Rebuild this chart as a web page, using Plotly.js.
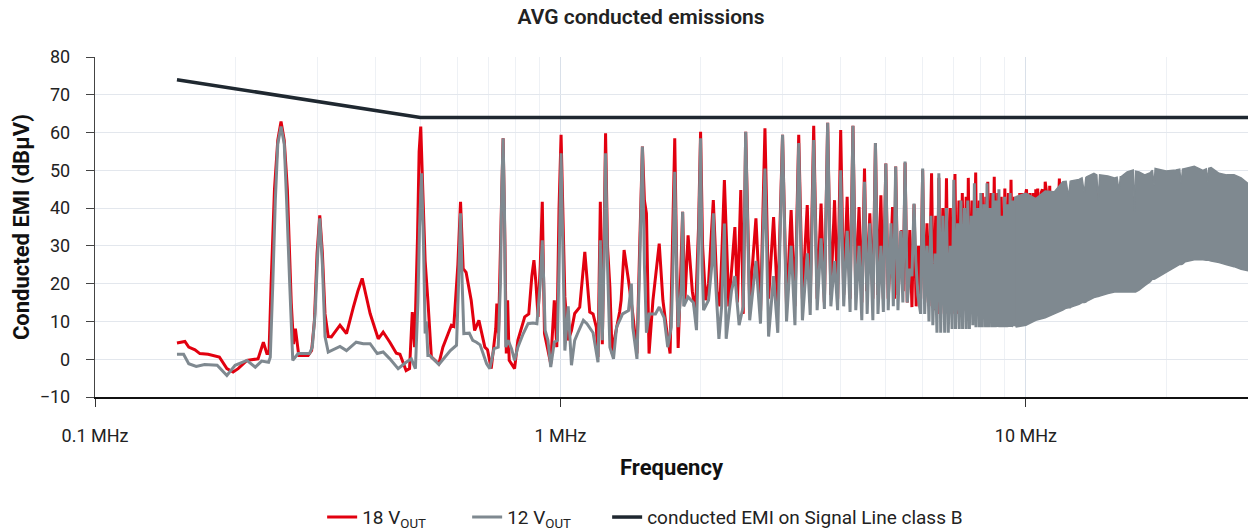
<!DOCTYPE html>
<html>
<head>
<meta charset="utf-8">
<script src="https://cdn.plot.ly/plotly-3.0.1.min.js"></script>
<style>
  html, body { margin: 0; padding: 0; background: #fff; }
  #chart { width: 1250px; height: 531px; }
</style>
</head>
<body>
<div id="chart"></div>
<script>
// ---------------- DATA (MHz, dBµV) ----------------
// 18 V OUT
const freq18A = [
  0.150, 0.156, 0.159, 0.164, 0.168, 0.175, 0.185, 0.192, 0.198, 0.203,
  0.212, 0.224, 0.230, 0.234, 0.2365, 0.239, 0.243, 0.247, 0.251, 0.255,
  0.259, 0.264, 0.267, 0.2695, 0.274, 0.287, 0.292, 0.296, 0.300, 0.304,
  0.308, 0.312, 0.317, 0.322, 0.336, 0.347, 0.359, 0.367, 0.375, 0.382,
  0.390, 0.406, 0.416, 0.430, 0.444, 0.452, 0.466, 0.474, 0.4805, 0.486,
  0.493, 0.497, 0.501, 0.506, 0.512, 0.519, 0.528, 0.548, 0.559, 0.583,
  0.590, 0.602, 0.610, 0.618, 0.627, 0.643, 0.654, 0.668, 0.688, 0.697,
  0.710, 0.726, 0.730, 0.736, 0.745, 0.753, 0.760, 0.765, 0.770, 0.776,
  0.797, 0.810, 0.838, 0.855, 0.868, 0.877, 0.886, 0.895, 0.905, 0.914,
  0.924, 0.953, 0.970, 0.982, 0.993, 1.003
];
const emi18A = [
  4.3, 4.7, 3.2, 2.5, 1.5, 1.3, 0.6, -2.5, -3.4, -2.5,
  -0.3, 0.1, 4.5, 1.5, 1.5, 20, 45, 58, 62.9, 58,
  45, 15, 4, 8.1, 1.0, 1.0, 2.3, 10, 28, 38.1,
  28, 12, 6, 5.9, 9.0, 6.8, 13.8, 18, 21.4, 17,
  12.1, 5.4, 7.2, 4.5, 1.6, 1.3, -3.0, -2.5, 12.5, 3.2,
  32, 55, 61.6, 45, 26, 15.6, 0.6, -1.2, 3.2, 9.0,
  8.7, 25, 41.7, 24, 23, 15.6, 7.6, 10.3, 3.2, 2.5,
  -2.5, 8, 14.7, 6.8, 35, 58.5, 30, 1.5, 15.6, -0.3,
  -2.5, 5, 11.2, 12, 22, 26.2, 20, 11.2, 25, 41.7,
  6.8, -1.2, 15.6, 3.2, 40, 59.4
];
const freq18B = [
  1.022, 1.039, 1.056, 1.073, 1.100, 1.128, 1.156, 1.175, 1.194, 1.204,
  1.218, 1.230, 1.240, 1.250, 1.262, 1.277, 1.291, 1.300, 1.340, 1.350,
  1.370, 1.400, 1.430, 1.460, 1.480, 1.500, 1.515, 1.530, 1.550, 1.580,
  1.630, 1.660, 1.690, 1.720, 1.740, 1.760, 1.780, 1.790, 1.810, 1.830,
  1.850, 1.880, 1.920, 1.950, 1.980, 2.000, 2.020, 2.050, 2.080, 2.130,
  2.170, 2.200, 2.225, 2.250
];
const emi18B = [
  16.5, 5, 7.6, 12.1, 13.8, 28.4, 12.5, 12, 8.5, 0.6,
  41.7, 4, 30, 59.8, 30, 19.1, 1.5, 4, 12.5, 15.6,
  28.9, 20.9, 12, 1.5, 30, 56.3, 42, 38.6, 1.5, 15.6,
  30.6, 15.6, 8, 1.5, 30, 58.5, 20, 3, 20, 39,
  15, 32.8, 18, 12, 35, 60.2, 30, 15.6, 20, 42.1,
  18, 14, 30, 47.4
];
const freq18C = [
  2.300, 2.370, 2.400, 2.440, 2.470, 2.500, 2.550, 2.630, 2.690, 2.750,
  2.800, 2.870, 2.930, 3.000, 3.060, 3.130, 3.190, 3.250, 3.310, 3.390,
  3.440, 3.500, 3.560, 3.630, 3.690, 3.750, 3.810, 3.880, 3.940, 4.000,
  4.060, 4.130, 4.190, 4.250, 4.310, 4.380, 4.440, 4.500, 4.550, 4.620,
  4.690, 4.750, 4.810, 4.880, 4.940, 5.000
];
const emi18C = [
  14, 35, 15, 44.8, 12, 60.2, 15, 37.3, 12, 61.1,
  16, 37.6, 14, 59.4, 14, 39.5, 14, 59.4, 16, 40.8,
  15, 61.8, 16, 41.2, 15, 62.6, 17, 42.1, 16, 60.7,
  17, 43, 16, 61.8, 17, 40.3, 15, 50.5, 18, 38.6,
  16, 57.2, 17, 43.4, 16, 51.8
];
const freq18D = [
  5.060, 5.130, 5.170, 5.220, 5.250, 5.310, 5.410, 5.450, 5.500, 5.560,
  5.630, 5.690, 5.750, 5.810, 5.880, 5.940, 6.000, 6.060, 6.130, 6.190,
  6.270, 6.330, 6.400, 6.450, 6.500, 6.560, 6.630, 6.690, 6.750, 6.810,
  6.880, 6.940, 7.040, 7.100, 7.180, 7.240, 7.300, 7.360, 7.440, 7.480,
  7.520, 7.580, 7.660, 7.720, 7.800, 7.860, 7.940, 8.000, 8.060, 8.120,
  8.200, 8.240, 8.280, 8.340, 8.420, 8.480, 8.550, 8.610, 8.700, 8.760,
  8.850, 8.930, 9.010, 9.080, 9.170, 9.220, 9.290, 9.360, 9.450, 9.500,
  9.570, 9.640, 9.700, 9.760, 9.820, 9.900, 9.960, 10.03, 10.10, 10.20,
  10.30, 10.37, 10.45, 10.50, 10.55, 10.60, 10.70, 10.78, 10.85, 10.92,
  11.00, 11.08, 11.15, 11.25, 11.35, 11.50, 11.60, 11.80, 11.90, 12.00
];
const emi18D = [
  16, 30, 40.3, 16, 51, 17, 34.2, 18, 52, 15,
  34.2, 13.8, 41, 14, 30, 16, 50, 15, 36, 14,
  49.2, 13, 38, 12, 48, 12, 40, 12, 47.9, 12,
  40, 12, 49, 12, 42, 12, 44, 13, 43, 13,
  48, 13, 42, 13, 49.4, 14, 42, 14, 44, 14,
  43, 15, 47, 15, 44, 15, 48.3, 16, 44, 16,
  43, 16, 45.2, 16, 44, 16, 47.5, 17, 43, 17,
  43, 17, 44, 17, 44, 18, 43, 45, 18, 44,
  18, 44, 19, 45, 19, 45.2, 20, 44, 45, 20,
  47, 43.9, 20, 45.9, 21, 44, 21, 47.8, 22, 45
];
const freq18E = [12.60, 13.50, 14.30, 15.00, 17.10, 18.00, 20.00, 24.00, 28.00, 30.00];
const emi18E  = [25, 40, 44, 25, 43, 28, 32, 35, 33, 30];

// 12 V OUT
const freq12A = [
  0.150, 0.155, 0.159, 0.165, 0.172, 0.183, 0.192, 0.200, 0.212, 0.221,
  0.228, 0.236, 0.238, 0.241, 0.244, 0.247, 0.251, 0.255, 0.258, 0.262,
  0.266, 0.273, 0.289, 0.293, 0.297, 0.301, 0.304, 0.308, 0.312, 0.317,
  0.336, 0.347, 0.364, 0.377, 0.390, 0.404, 0.416, 0.430, 0.448, 0.466,
  0.478, 0.488, 0.494, 0.498, 0.503, 0.508, 0.512, 0.515, 0.519, 0.524,
  0.548, 0.580, 0.598, 0.604, 0.610, 0.615, 0.620, 0.637, 0.648, 0.660,
  0.672, 0.694, 0.705, 0.720, 0.735, 0.743, 0.748, 0.753, 0.758, 0.763,
  0.772, 0.785, 0.797, 0.810, 0.832, 0.852, 0.873, 0.890, 0.905, 0.914,
  0.921, 0.927, 0.940, 0.953, 0.970, 0.985, 0.995, 1.003
];
const emi12A = [
  1.3, 1.3, -1.2, -1.9, -1.4, -1.6, -4.3, -1.6, -0.3, -2.1,
  -0.5, -0.8, 0.5, 20, 42, 57, 61.6, 57, 42, 20,
  -0.3, 1.5, 1.5, 3.2, 12, 28, 37.3, 25, 6, 1.9,
  3.4, 2.3, 4.5, 4.1, 4.1, 1.5, 1.9, 0.1, -2.5, -0.8,
  0.1, -2.5, 15, 35, 49.2, 30, 6.8, 10, 1.0, 1.0,
  -1.4, 2.3, 3.7, 20, 38.6, 20, 6.8, 6.9, 5.0, 4.5,
  3.8, -1.2, -2.5, 2.8, 3.2, 20, 45, 58.5, 40, 3.2,
  5, 2.8, -0.3, 3.2, 6.8, 9.4, 9.6, 9.4, 20, 31.5,
  20, 7.6, 5, -2.1, 4.5, 5, 30, 54.5
];
const freq12B = [
  1.022, 1.039, 1.056, 1.073, 1.090, 1.120, 1.140, 1.175, 1.204, 1.212,
  1.218, 1.224, 1.230, 1.240, 1.250, 1.262, 1.277, 1.300, 1.320, 1.360,
  1.400, 1.420, 1.430, 1.460, 1.480, 1.500, 1.515, 1.530, 1.550, 1.600,
  1.630, 1.670, 1.700, 1.730, 1.745, 1.760, 1.775, 1.790, 1.820, 1.830,
  1.840, 1.880, 1.930, 1.960, 1.980, 2.000, 2.015, 2.030, 2.080, 2.115,
  2.130, 2.145, 2.160, 2.190, 2.220, 2.235, 2.250, 2.270
];
const emi12B = [
  2.3, 14, -1.6, 5, 7, 10.3, 9.4, 7, -0.8, 15,
  31.5, 15, 5, 25, 54.5, 25, 3.2, 0.1, 8.5, 12,
  12.9, 20, 8.5, 0.1, 25, 56.3, 25, 7, 12, 12,
  13.8, 11, 3.2, 8.5, 25, 49.6, 25, 8.5, 20, 39,
  14, 16.5, 15, 7.7, 30, 58.5, 25, 13, 15.6, 25,
  38.6, 25, 18, 5.4, 14, 25, 35.9, 5.4
];
const freq12C = [
  2.330, 2.370, 2.420, 2.470, 2.500, 2.550, 2.630, 2.690, 2.750, 2.800,
  2.870, 2.930, 3.000, 3.060, 3.130, 3.190, 3.250, 3.310, 3.390, 3.440,
  3.500, 3.560, 3.630, 3.690, 3.750, 3.810, 3.880, 3.940, 4.000, 4.060,
  4.130, 4.190, 4.250, 4.310, 4.380, 4.440, 4.500, 4.560, 4.620, 4.690,
  4.750, 4.810, 4.880, 4.940, 5.000
];
const emi12C = [
  18, 22, 9, 14, 60.2, 10.3, 26, 9.4, 50.5, 6,
  22, 7, 59.4, 10, 30, 9, 57.2, 10.3, 28, 11.7,
  58, 13, 32, 13.3, 62.6, 14, 26, 13, 50, 14,
  34, 12.5, 61.8, 13, 30, 10.3, 47, 12, 36, 10.3,
  57.2, 12, 30, 12.5, 51.8
];
const freq12D = [
  5.060, 5.130, 5.190, 5.250, 5.310, 5.380, 5.440, 5.500, 5.560, 5.630,
  5.690, 5.750, 5.800, 5.860, 5.940, 6.000, 6.060, 6.130, 6.190, 6.250,
  6.310, 6.380, 6.440, 6.500, 6.560, 6.630, 6.690, 6.750, 6.810, 6.880,
  6.940, 7.000, 7.060, 7.130, 7.190, 7.250, 7.310, 7.380, 7.440, 7.500,
  7.560, 7.630, 7.690, 7.750, 7.810, 7.880, 7.940, 8.000, 8.060, 8.130,
  8.190, 8.250, 8.310, 8.380, 8.440, 8.500, 8.560, 8.630, 8.690, 8.750,
  8.810, 8.880, 8.940, 9.000, 9.060, 9.130, 9.190, 9.250, 9.310, 9.380,
  9.440, 9.500, 9.560, 9.630, 9.690, 9.750, 9.810, 9.880, 9.940, 10.00
];
const emi12D = [
  13, 36, 14, 51, 13, 34, 15, 52.3, 15, 24,
  22, 41.2, 26, 17, 12, 50.5, 12, 30, 10, 38,
  9, 28, 7, 49.2, 7, 38, 7, 40, 7, 30,
  8, 47.5, 8, 36, 8, 42, 8, 40, 8, 42,
  8, 38, 9, 46.6, 8.5, 40, 8.5, 44, 8.5, 41,
  8.5, 46.6, 8.5, 40, 8.5, 44, 8.5, 42, 8.5, 45,
  8.5, 38, 8.5, 43, 8.5, 41, 8.5, 44, 8.5, 42,
  8.7, 43, 8.7, 40, 8.8, 43, 8.9, 42, 9, 43.9
];
// 12 V OUT above ~9.5 MHz: dense harmonic comb, read as its upper and lower envelope
const band12Freq = [
  9.5, 10.0, 10.5, 11.0, 11.5, 12.0, 12.2, 12.35, 12.45, 12.5,
  13.0, 13.2, 13.35, 13.45, 13.5, 14.0, 14.2, 14.3, 14.4, 15.0,
  15.5, 15.7, 15.85, 15.95, 16.0, 16.5, 17.0, 17.1, 17.2, 17.5,
  18.0, 18.5, 18.7, 18.85, 18.95, 20.0, 21.0, 21.4, 21.55, 21.7,
  22.0, 23.0, 24.0, 24.4, 24.55, 24.7, 25.0, 26.0, 27.0, 28.0,
  29.0, 30.0
];
const band12High = [
  43, 43.9, 42.5, 44.5, 44.3, 47.0, 47.1, 43, 47.1, 47.2,
  47.6, 48.0, 44, 48.1, 48.3, 49.2, 48.8, 42, 48.8, 48.5,
  48.0, 48.2, 44.5, 48.3, 48.3, 49.6, 50.1, 39, 49.8, 49.6,
  48.8, 49.4, 50.0, 46, 50.5, 49.8, 50.1, 50.3, 46.5, 50.3,
  50.5, 51.1, 50.0, 50.4, 47, 50.5, 50.7, 49.2, 48.8, 48.8,
  48.0, 46.5
];
const band12Low = [
  8.5, 9.0, 10.3, 11.0, 12.0, 13.0, 13.5, 13.6, 13.6, 13.8,
  14.5, 15.0, 15.0, 15.1, 15.3, 16.3, 16.5, 16.6, 16.7, 17.4,
  17.8, 17.8, 17.8, 17.8, 17.8, 17.8, 17.8, 17.8, 17.8, 18.3,
  19.5, 20.5, 21.2, 21.2, 21.3, 23.0, 24.5, 25.1, 25.1, 25.2,
  25.8, 26.3, 26.3, 26.2, 26.2, 26.2, 26.0, 25.6, 25.0, 24.5,
  23.8, 23.4
];

// Limit: conducted EMI on signal line, class B (AVG)
const limitFreq = [0.15, 0.5, 30];
const limitVal  = [74, 64, 64];

// Axis ticks
const xTickVals = [0.1, 1, 10];
const xTickText = ['0.1 MHz', '1 MHz', '10 MHz'];
const xMinorVals = [0.2, 0.3, 0.4, 0.5, 0.6, 0.7, 0.8, 0.9, 2, 3, 4, 5, 6, 7, 8, 9, 20];

// ---------------- BUILD ----------------
const freq18 = freq18A.concat(freq18B, freq18C, freq18D, freq18E);
const emi18  = emi18A.concat(emi18B, emi18C, emi18D, emi18E);
const freq12 = freq12A.concat(freq12B, freq12C, freq12D);
const emi12  = emi12A.concat(emi12B, emi12C, emi12D);

const RED = '#e2000f', GRAY = '#7f8990', DARK = '#1f2830';
const FONT = 'Roboto, "Noto Sans", "DejaVu Sans", sans-serif';

const traces = [
  { x: freq18, y: emi18, type: 'scatter', mode: 'lines', name: '18 V<sub>OUT</sub>',
    legendwidth: 100,
    line: { color: RED, width: 3, simplify: false }, hoverinfo: 'skip' },
  { x: freq12, y: emi12, type: 'scatter', mode: 'lines', name: '12 V<sub>OUT</sub>',
    legendwidth: 95,
    line: { color: GRAY, width: 3, simplify: false }, hoverinfo: 'skip' },
  { x: band12Freq.concat(band12Freq.slice().reverse()),
    y: band12High.concat(band12Low.slice().reverse()),
    type: 'scatter', mode: 'lines', fill: 'toself', fillcolor: GRAY,
    line: { color: GRAY, width: 1.5, simplify: false }, showlegend: false, hoverinfo: 'skip' },
  { x: limitFreq, y: limitVal, type: 'scatter', mode: 'lines',
    name: 'conducted EMI on Signal Line class B',
    legendwidth: 330,
    line: { color: DARK, width: 3.5 }, hoverinfo: 'skip' }
];

const layout = {
  width: 1250, height: 531,
  paper_bgcolor: '#ffffff', plot_bgcolor: '#ffffff',
  margin: { l: 95, r: 2, t: 57, b: 134, pad: 0, autoexpand: false },
  font: { family: FONT, color: '#222222', size: 17 },
  title: {
    text: 'AVG conducted emissions',
    font: { family: FONT, size: 21, color: '#222222', weight: 600 },
    x: 0.4736, xref: 'paper', xanchor: 'center',
    y: 0.968, yref: 'container', yanchor: 'middle'
  },
  xaxis: {
    type: 'log', range: [-1, Math.log10(30)],
    tickvals: xTickVals, ticktext: xTickText,
    ticks: 'outside', ticklen: 8, tickcolor: '#333333', tickwidth: 1,
    ticklabelstandoff: 14,
    showline: true, linecolor: '#111111', linewidth: 1.5,
    showgrid: true, gridcolor: '#d9e0e9', gridwidth: 1,
    zeroline: false,
    minor: { tickvals: xMinorVals, showgrid: true, gridcolor: '#eef1f5', gridwidth: 1, ticks: '' },
    tickfont: { family: FONT, size: 18, color: '#222222' },
    title: { text: 'Frequency', font: { family: FONT, size: 22, color: '#111111', weight: 'bold' }, standoff: 14 },
    automargin: false, fixedrange: true
  },
  yaxis: {
    range: [-10, 80], dtick: 10, tick0: 0,
    ticks: 'outside', ticklen: 8, tickcolor: '#444444', tickwidth: 1,
    ticklabelstandoff: 12,
    showline: true, linecolor: '#444444', linewidth: 1.2,
    showgrid: true, gridcolor: '#e3e7ed', gridwidth: 1.2,
    zeroline: false,
    tickfont: { family: FONT, size: 18, color: '#222222' },
    title: { text: 'Conducted EMI (dBµV)', font: { family: FONT, size: 22, color: '#111111', weight: 'bold' }, standoff: 4 },
    automargin: false, fixedrange: true
  },
  showlegend: true,
  legend: {
    orientation: 'h', x: 0.197, xanchor: 'left', xref: 'paper',
    y: 0.026, yanchor: 'middle', yref: 'container',
    font: { family: FONT, size: 19, color: '#222222' },
    bgcolor: 'rgba(0,0,0,0)', traceorder: 'normal'
  }
};

Plotly.newPlot('chart', traces, layout, { staticPlot: true, displayModeBar: false });
</script>
</body>
</html>
